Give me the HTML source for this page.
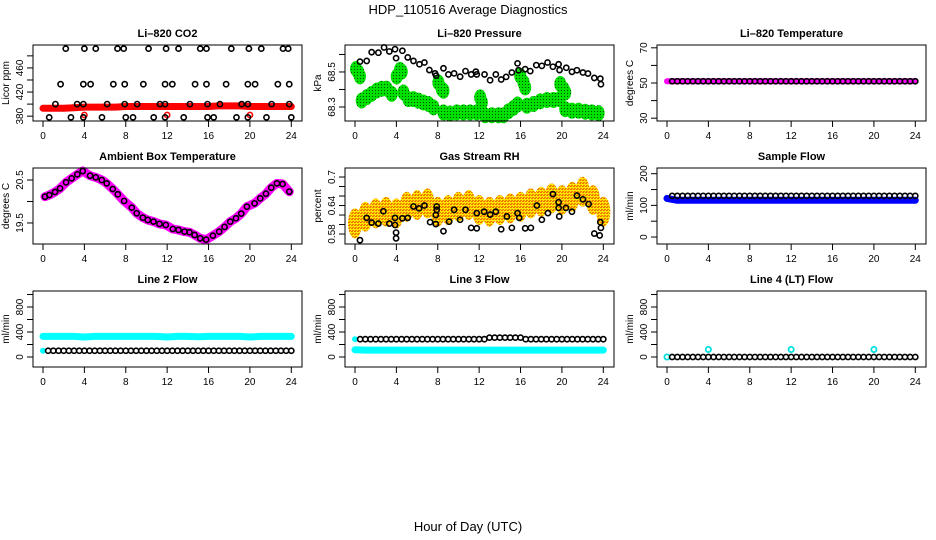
<!DOCTYPE html>
<html><head><meta charset="utf-8"><style>
body{margin:0;background:#fff;}
svg{display:block;font-family:"Liberation Sans",Arial,sans-serif;}
</style></head><body>
<svg id="chart" width="936" height="540" viewBox="0 0 936 540" xmlns="http://www.w3.org/2000/svg">
<defs>
<pattern id="gdots" width="3" height="3" patternUnits="userSpaceOnUse"><rect width="3" height="3" fill="#00e000"/><rect width="1" height="1" fill="#005000"/></pattern>
<pattern id="ydots" width="3" height="3" patternUnits="userSpaceOnUse"><rect width="3" height="3" fill="#ffe800"/><rect width="2" height="1" fill="#f07000"/><rect y="2" x="1" width="2" height="1" fill="#f08000"/></pattern>
</defs>
<text x="468" y="14" font-size="13" text-anchor="middle">HDP_110516  Average Diagnostics</text>
<text x="468" y="531" font-size="13" text-anchor="middle">Hour of Day (UTC)</text>
</svg>
<script>
// ---------- data ----------
const H48=[0.5,1,1.5,2,2.5,3,3.5,4,4.5,5,5.5,6,6.5,7,7.5,8,8.5,9,9.5,10,10.5,11,11.5,12,12.5,13,13.5,14,14.5,15,15.5,16,16.5,17,17.5,18,18.5,19,19.5,20,20.5,21,21.5,22,22.5,23,23.5,24];
const H25=[0,1,2,3,4,5,6,7,8,9,10,11,12,13,14,15,16,17,18,19,20,21,22,23,24];
// CO2
const co2TopH=[2.2,4.0,5.1,7.2,7.8,10.2,11.9,13.1,15.2,15.8,18.2,19.9,21.1,23.2,23.7];
const co2MidH=[1.7,3.9,4.6,6.8,7.9,9.7,11.8,12.5,14.7,15.8,17.7,19.8,20.5,22.7,23.8];
const co2LowH=[1.2,3.3,3.9,6.2,7.9,9.1,11.3,11.8,14.2,15.9,17.1,19.2,19.8,22.1,23.8];
const co2BotH=[0.6,2.7,3.9,5.7,8.0,8.7,10.7,11.8,13.6,15.9,16.5,18.7,19.8,21.6,24.0];
const co2Levels=[492,433,400,378];
const co2RedV=[393,393,393,394,395,395,395,395,396,396,396,396,396,396,396,396,396,397,397,397,396,396,396,396,396];
const co2RedSpikeH=[4.0,12.0,20.0];
const co2RedSpikeV=[382,382,382];
// Pressure
const presBlackH=[0.48,1.13,1.61,2.26,2.81,3.32,3.87,3.97,4.58,5.10,5.65,6.23,6.71,7.19,7.74,7.84,8.55,9.03,9.58,10.16,10.68,11.23,11.68,11.77,12.52,13.06,13.61,14.13,14.61,15.16,15.71,15.81,16.45,16.94,17.52,18.06,18.61,19.13,19.68,19.77,20.42,20.97,21.45,22.03,22.52,23.13,23.71,23.77];
const presBlackV=[68.559,68.563,68.613,68.610,68.640,68.617,68.630,68.579,68.621,68.583,68.563,68.544,68.554,68.511,68.492,68.479,68.521,68.486,68.492,68.473,68.505,68.486,68.502,68.486,68.486,68.453,68.486,68.457,68.472,68.497,68.549,68.510,68.516,68.505,68.539,68.535,68.554,68.530,68.544,68.511,68.524,68.501,68.510,68.497,68.491,68.466,68.462,68.430];
const presGreenH=[0.10,0.32,0.48,0.65,1.13,1.61,2.10,2.58,3.06,3.55,4.03,4.35,4.52,4.68,5.16,5.65,6.13,6.61,7.10,7.58,8.06,8.39,8.55,8.55,9.19,9.84,10.48,11.13,11.77,12.10,12.26,12.58,13.23,13.87,14.35,14.84,15.32,15.71,15.97,16.29,16.45,16.61,17.26,17.90,18.55,19.19,19.77,19.84,20.16,20.32,20.32,20.97,21.61,22.26,22.90,23.55];
const presGreenV=[68.517,68.498,68.475,68.337,68.356,68.375,68.394,68.404,68.404,68.375,68.474,68.512,68.502,68.383,68.345,68.345,68.336,68.326,68.317,68.298,68.440,68.402,68.393,68.269,68.263,68.269,68.269,68.269,68.269,68.355,68.326,68.253,68.253,68.253,68.253,68.276,68.295,68.314,68.478,68.440,68.412,68.307,68.317,68.332,68.340,68.340,68.345,68.431,68.402,68.383,68.288,68.279,68.279,68.273,68.269,68.265];
// Li-820 temperature
const tempMagV=[51,51,51,51,51,51,51,51,51,51,51,51,51,51,51,51,51,51,51,51,51,51,51,51,51];
const tempBlackV=[51,51,51,51,51,51,51,51,51,51,51,51,51,51,51,51,51,51,51,51,51,51,51,51,51,51,51,51,51,51,51,51,51,51,51,51,51,51,51,51,51,51,51,51,51,51,51,51];
// Ambient
const ambH=[0.19,0.61,1.16,1.65,2.23,2.77,3.32,3.84,4.55,5.10,5.68,6.16,6.74,7.23,7.84,8.58,9.06,9.65,10.13,10.68,11.26,11.87,12.55,13.10,13.68,14.16,14.65,15.19,15.77,16.42,17.03,17.55,18.10,18.65,19.16,19.71,20.45,21.0,21.55,22.06,22.61,23.16,23.81];
const ambV=[20.112,20.151,20.221,20.306,20.446,20.539,20.632,20.709,20.601,20.562,20.5,20.422,20.291,20.167,20.012,19.857,19.725,19.624,19.570,19.531,19.477,19.453,19.360,19.337,19.298,19.283,19.221,19.143,19.112,19.205,19.298,19.407,19.531,19.609,19.717,19.880,19.957,20.074,20.182,20.322,20.422,20.407,20.229];
// RH
const rhYelV=[0.6025,0.6165,0.6235,0.627,0.6235,0.6375,0.641,0.6445,0.627,0.6305,0.6375,0.641,0.6305,0.627,0.6305,0.634,0.6375,0.6445,0.648,0.655,0.6515,0.6585,0.669,0.6515,0.627];
const rhBlackH=[0.48,1.13,1.61,2.26,2.74,3.32,3.87,3.87,3.97,3.97,4.58,5.10,5.65,6.19,6.71,7.26,7.81,7.81,7.90,7.90,8.55,9.10,9.58,10.16,10.68,11.23,11.77,11.77,12.48,13.06,13.61,14.13,14.68,15.16,15.71,15.87,16.45,17.0,17.58,18.06,18.65,19.13,19.68,19.68,19.74,20.39,20.97,21.45,22.03,22.58,23.13,23.65,23.71,23.77];
const rhBlackV=[0.567,0.614,0.604,0.602,0.628,0.602,0.599,0.614,0.583,0.571,0.613,0.614,0.638,0.634,0.640,0.605,0.601,0.620,0.631,0.638,0.586,0.606,0.631,0.610,0.631,0.593,0.592,0.624,0.627,0.621,0.627,0.590,0.617,0.593,0.624,0.614,0.592,0.593,0.640,0.610,0.624,0.664,0.647,0.635,0.617,0.635,0.627,0.661,0.653,0.643,0.581,0.577,0.605,0.593];
// Sample flow
const sfBlueV=[122,116,116,116,116,116,116,116,116,116,116,116,116,116,116,116,116,116,116,116,116,116,116,116,116];
const sfBlackV=[130,130,130,130,130,130,130,130,130,130,130,130,130,130,130,130,130,130,130,130,130,130,130,130,130,130,130,130,130,130,130,130,130,130,130,130,130,130,130,130,130,130,130,130,130,130,130,130];
// Line flows
const l2CyanV=[330,330,330,330,320,330,330,330,330,330,330,330,320,330,330,325,330,330,330,330,320,330,330,330,330];
const l2BlackV=[100,100,100,100,100,100,100,100,100,100,100,100,100,100,100,100,100,100,100,100,100,100,100,100,100,100,100,100,100,100,100,100,100,100,100,100,100,100,100,100,100,100,100,100,100,100,100,100];
const l3CyanV=[115,110,110,110,110,110,110,110,110,110,110,110,110,110,110,110,110,110,110,110,110,110,110,110,110];
const l3BlackV=[285,285,285,285,285,285,285,285,285,285,285,285,285,285,285,285,285,285,285,285,285,285,285,285,285,310,310,310,310,310,310,310,285,285,285,285,285,285,285,285,285,285,285,285,285,285,285,285];
const l4BlackV=[0,0,0,0,0,0,0,0,0,0,0,0,0,0,0,0,0,0,0,0,0,0,0,0,0,0,0,0,0,0,0,0,0,0,0,0,0,0,0,0,0,0,0,0,0,0,0,0];
const l4CyanH=[0,4,12,20];
const l4CyanV=[0,120,120,120];
const xTicks=[0,4,8,12,16,20,24];

// ---------- drawing ----------
const svg=document.getElementById('chart');
const NS='http://www.w3.org/2000/svg';
function mk(tag,attrs,parent){const e=document.createElementNS(NS,tag);for(const k in attrs)e.setAttribute(k,attrs[k]);(parent||svg).appendChild(e);return e;}
const COLS=[33,345,657], ROWS=[45,168,291], W=269, HH=76;

function panel(col,row,title,ylab,ymin,ymax,ticks,labels,name){
  const L=COLS[col],T=ROWS[row];
  const g=mk('g',{});
  
  
  const x=h=>L+10+(h)*(W-20.7)/24;
  const y=v=>T+HH-(v-ymin)/(ymax-ymin)*HH;
  const t=mk('text',{x:L+W/2,y:T-8,'font-size':11,'font-weight':'bold','text-anchor':'middle'},g);t.textContent=title;
  
  
  const yl=mk('text',{x:0,y:0,'font-size':10,'text-anchor':'middle',transform:`translate(${L-24},${T+HH/2}) rotate(-90)`},g);yl.textContent=ylab;
  
  
  ticks.forEach(v=>{mk('line',{x1:L-6,x2:L,y1:y(v),y2:y(v),stroke:'#000','stroke-width':1},g);});
  labels.forEach(v=>{const tx=mk('text',{x:0,y:0,'font-size':10,'text-anchor':'middle',transform:`translate(${L-10},${y(v)}) rotate(-90)`},g);tx.textContent=String(v);
    
    });
  xTicks.forEach(h=>{mk('line',{x1:x(h),x2:x(h),y1:T+HH,y2:T+HH+6,stroke:'#000'},g);
    const tx=mk('text',{x:x(h),y:T+HH+18,'font-size':10,'text-anchor':'middle'},g);tx.textContent=String(h);
    
    });
  const plot=mk('g',{},g);
  const box=mk('rect',{x:L,y:T,width:W,height:HH,fill:'none',stroke:'#000','stroke-width':1});
  
  
  return {x,y,g:plot,box};
}
function pts(p,hs,vs,color,r,sw,name){
  hs.forEach((h,i)=>{const c=mk('circle',{cx:p.x(h),cy:p.y(vs[i]),r:r||2.6,fill:'none',stroke:color,'stroke-width':sw||1.6},p.g);
    
    });
}
function band(p,hs,vs,color,w,name){
  const d=hs.map((h,i)=>(i?'L':'M')+p.x(h).toFixed(1)+','+p.y(vs[i]).toFixed(1)).join('');
  const e=mk('path',{d,fill:'none',stroke:color,'stroke-width':w,'stroke-linejoin':'round','stroke-linecap':'round'},p.g);
  
  
}
function blobs(p,hs,vs,fill,rx,ry,name){
  hs.forEach((h,i)=>{const e=mk('ellipse',{cx:p.x(h),cy:p.y(vs[i]),rx,ry,fill},p.g);
    
    });
}

// CO2
let p=panel(0,0,'Li\u2013820 CO2','Licor ppm',372,498,[380,400,420,440,460,480],[380,420,460],'co2');
band(p,H25,co2RedV,'#ff0000',7,'co2-red-series');
pts(p,co2RedSpikeH,co2RedSpikeV,'#ff0000',2.6,1.6,'co2-red-point');
[co2TopH,co2MidH,co2LowH,co2BotH].forEach((hs,k)=>pts(p,hs,hs.map(()=>co2Levels[k]),'#000',2.6,1.6,'co2-black-point'));
// Pressure
p=panel(1,0,'Li\u2013820 Pressure','kPa',68.22,68.654,[68.3,68.4,68.5,68.6],[68.3,68.5],'pressure');
blobs(p,presGreenH,presGreenV,'url(#gdots)',6,8,'pressure-green-point');
pts(p,presBlackH,presBlackV,'#000',2.6,1.6,'pressure-black-point');
// Li-820 temperature
p=panel(2,0,'Li\u2013820 Temperature','degrees C',28.4,71.6,[30,40,50,60,70],[30,50,70],'li820-temp');
band(p,H25,tempMagV,'#ff00ff',6,'temp-magenta-series');
pts(p,H48,tempBlackV,'#000',2.6,1.6,'temp-black-point');
// Ambient
p=panel(0,1,'Ambient Box Temperature','degrees C',19.01,20.78,[19.5,20,20.5],[19.5,20.5],'ambient');
band(p,ambH,ambV,'#ff00ff',9,'ambient-magenta-series');
pts(p,ambH,ambV,'#000',2.6,1.6,'ambient-black-point');
// RH
p=panel(1,1,'Gas Stream RH','percent',0.559,0.719,[0.58,0.60,0.62,0.64,0.66,0.68,0.70],[0.58,0.64,0.70],'rh');
blobs(p,H25,rhYelV,'url(#ydots)',7,15,'rh-yellow-point');
pts(p,rhBlackH,rhBlackV,'#000',2.6,1.6,'rh-black-point');
// Sample flow
p=panel(2,1,'Sample Flow','ml/min',-22,218,[0,50,100,150,200],[0,100,200],'sample-flow');
band(p,H25,sfBlueV,'#0000ff',7,'sample-flow-blue-series');
pts(p,H48,sfBlackV,'#000',2.6,1.6,'sample-flow-black-point');
// Line 2
p=panel(0,2,'Line 2 Flow','ml/min',-160,1056,[0,200,400,600,800,1000],[0,400,800],'line2');
band(p,H25,l2CyanV,'#00ffff',7,'line2-cyan-series');
mk('circle',{cx:p.x(0),cy:p.y(100),r:3,fill:'#00ffff'},p.g);
pts(p,H48,l2BlackV,'#000',2.6,1.6,'line2-black-point');
// Line 3
p=panel(1,2,'Line 3 Flow','ml/min',-160,1056,[0,200,400,600,800,1000],[0,400,800],'line3');
band(p,H25,l3CyanV,'#00ffff',7,'line3-cyan-series');
mk('circle',{cx:p.x(0),cy:p.y(285),r:3,fill:'#00ffff'},p.g);
pts(p,H48,l3BlackV,'#000',2.6,1.6,'line3-black-point');
// Line 4
p=panel(2,2,'Line 4 (LT) Flow','ml/min',-160,1056,[0,200,400,600,800,1000],[0,400,800],'line4');
pts(p,l4CyanH,l4CyanV,'#00e0e0',2.6,1.8,'line4-cyan-point');
pts(p,H48,l4BlackV,'#000',2.6,1.6,'line4-black-point');
</script>
</body></html>
